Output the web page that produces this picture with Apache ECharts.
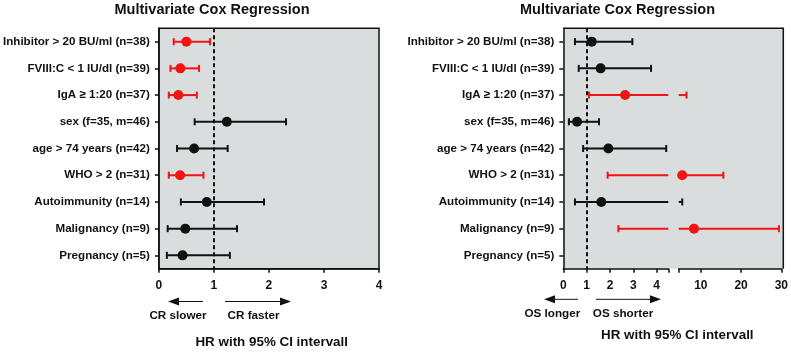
<!DOCTYPE html>
<html>
<head>
<meta charset="utf-8">
<script src="https://cdn.jsdelivr.net/npm/echarts@6/dist/echarts.min.js"></script>
<style>
  html, body { margin: 0; padding: 0; background: #fff; }
  #chart { width: 791px; height: 352px; }
</style>
</head>
<body>
<div id="chart"></div>
<script>
// rows (top to bottom)
const rows = [
    'Inhibitor > 20 BU/ml (n=38)',
    'FVIII:C < 1 IU/dl (n=39)',
    'IgA \u2265 1:20 (n=37)',
    'sex (f=35, m=46)',
    'age > 74 years (n=42)',
    'WHO > 2 (n=31)',
    'Autoimmunity (n=14)',
    'Malignancy (n=9)',
    'Pregnancy (n=5)'
];

// left panel: complete remission
const crHR = [0.50, 0.39, 0.355, 1.235, 0.64, 0.385, 0.87, 0.48, 0.43];
const crLo = [0.27, 0.21, 0.18, 0.65, 0.33, 0.18, 0.40, 0.16, 0.145];
const crHi = [0.93, 0.73, 0.69, 2.31, 1.25, 0.81, 1.91, 1.42, 1.29];
const crSig = [1, 1, 1, 0, 0, 1, 0, 0, 0];

// right panel: overall survival (pregnancy not estimated)
const osHR = [1.22, 1.60, 2.65, 0.59, 1.93, 5.38, 1.63, 8.3, null];
const osLo = [0.50, 0.66, 1.10, 0.24, 0.85, 1.90, 0.50, 2.36, null];
const osHi = [2.96, 3.76, 6.45, 1.53, 4.41, 15.6, 5.38, 29.4, null];
const osSig = [0, 0, 1, 0, 0, 1, 0, 1, 0];

// axis ticks
const crTicks = [0, 1, 2, 3, 4];
const osTicksLow = [0, 1, 2, 3, 4];
const osTicksHigh = [10, 20, 30];
const osBreak = 4.5;

const RED = '#f01414';
const BLACK = '#111111';
const BG = '#d9dddd';
const FONT = 'Arial, "Liberation Sans", sans-serif';

function colorOf(sig) { return sig ? RED : BLACK; }

function barData(lo, hi, hr, sig) {
    const out = [];
    for (let i = 0; i < rows.length; i++) {
        if (hr[i] == null) continue;
        out.push({ value: [lo[i], i, hi[i]], itemStyle: { color: colorOf(sig[i]) } });
    }
    return out;
}

function pointData(hr, sig) {
    const out = [];
    for (let i = 0; i < rows.length; i++) {
        if (hr[i] == null) continue;
        out.push({ value: [hr[i], i], itemStyle: { color: colorOf(sig[i]), opacity: 1 } });
    }
    return out;
}

// error bar drawn through the axis scale, clipped to its grid
function renderBar(params, api) {
    const cs = params.coordSys;
    const p1 = api.coord([api.value(0), api.value(1)]);
    const p2 = api.coord([api.value(2), api.value(1)]);
    const xmin = cs.x, xmax = cs.x + cs.width;
    const x1 = Math.max(p1[0], xmin), x2 = Math.min(p2[0], xmax);
    if (x2 <= x1) return;
    const y = p1[1];
    const color = api.visual('color');
    const style = { stroke: color, lineWidth: 2 };
    const children = [{ type: 'line', shape: { x1: x1, y1: y, x2: x2, y2: y }, style: style }];
    const cap = 3.5;
    if (p1[0] >= xmin - 0.5 && p1[0] <= xmax + 0.5) {
        children.push({ type: 'line', shape: { x1: p1[0], y1: y - cap, x2: p1[0], y2: y + cap }, style: style });
    }
    if (p2[0] >= xmin - 0.5 && p2[0] <= xmax + 0.5) {
        children.push({ type: 'line', shape: { x1: p2[0], y1: y - cap, x2: p2[0], y2: y + cap }, style: style });
    }
    return { type: 'group', children: children };
}

const gTop = 28.3, gHeight = 240.4;
const axisLabelStyle = { color: BLACK, fontWeight: 'bold', fontSize: 12, fontFamily: FONT };
const catLabelStyle = { color: BLACK, fontWeight: 'bold', fontSize: 11.6, fontFamily: FONT };
const axLine = { color: BLACK, width: 1.5 };

function yAxis(gridIndex, show) {
    return {
        type: 'category', gridIndex: gridIndex, data: rows, inverse: true,
        show: show,
        axisLine: { show: true, lineStyle: axLine },
        axisTick: { show: true, length: 4, alignWithLabel: true, lineStyle: axLine },
        axisLabel: Object.assign({ margin: 9 }, catLabelStyle)
    };
}

function xAxis(gridIndex, min, max, ticks, labels) {
    return {
        type: 'value', gridIndex: gridIndex, min: min, max: max,
        splitLine: { show: false },
        axisLine: { show: true, onZero: false, lineStyle: axLine },
        axisTick: { show: true, length: 4, customValues: ticks, lineStyle: axLine },
        axisLabel: Object.assign({ margin: 11, customValues: labels }, axisLabelStyle)
    };
}

const dashLine = {
    silent: true, symbol: 'none', label: { show: false }, z: 1,
    lineStyle: { color: BLACK, type: [4, 3], width: 2 },
    emphasis: { disabled: true },
    data: [{ xAxis: 1 }]
};

function textEl(x, y, text, size) {
    return { type: 'text', x: x, y: y, style: { text: text, align: 'center', verticalAlign: 'middle',
        fill: BLACK, font: 'bold ' + size + 'px ' + FONT } };
}

const option = {
    animation: false,
    textStyle: { fontFamily: FONT },
    grid: [
        { left: 157.7, top: gTop, width: 221.3, height: gHeight, show: true,
          backgroundColor: BG, borderColor: BLACK, borderWidth: 1.5 },
        { left: 563.3, top: gTop, width: 105, height: gHeight },
        { left: 678.7, top: gTop, width: 104.6, height: gHeight }
    ],
    xAxis: [
        xAxis(0, 0, 4, crTicks, crTicks),
        xAxis(1, 0, osBreak, osTicksLow.concat([osBreak]), osTicksLow),
        xAxis(2, osBreak, 30, [osBreak].concat(osTicksHigh), osTicksHigh)
    ],
    yAxis: [yAxis(0, true), yAxis(1, true), yAxis(2, false)],
    graphic: [
        // titles
        textEl(212, 9.5, 'Multivariate Cox Regression', 14.5),
        textEl(617.5, 10, 'Multivariate Cox Regression', 14.5),
        // right panel background and frame
        { type: 'rect', z: -10, shape: { x: 563.3, y: gTop, width: 220, height: gHeight }, style: { fill: BG } },
        { type: 'polyline', z: 10, shape: { points: [[563.3, gTop], [783.3, gTop], [783.3, gTop + gHeight]] },
          style: { stroke: BLACK, lineWidth: 1.5, fill: null } },
        // direction arrows, left panel
        { type: 'line', shape: { x1: 175, y1: 301.5, x2: 203, y2: 301.5 }, style: { stroke: BLACK, lineWidth: 1 } },
        { type: 'polygon', shape: { points: [[168, 301.5], [179, 297.5], [179, 305.5]] }, style: { fill: BLACK } },
        { type: 'line', shape: { x1: 225, y1: 301.5, x2: 284, y2: 301.5 }, style: { stroke: BLACK, lineWidth: 1 } },
        { type: 'polygon', shape: { points: [[291, 301.5], [280, 297.5], [280, 305.5]] }, style: { fill: BLACK } },
        textEl(178, 316, 'CR slower', 11.7),
        textEl(253.5, 316, 'CR faster', 11.7),
        textEl(271.7, 342.5, 'HR with 95% CI intervall', 13.4),
        // direction arrows, right panel
        { type: 'line', shape: { x1: 551, y1: 299.3, x2: 578, y2: 299.3 }, style: { stroke: BLACK, lineWidth: 1 } },
        { type: 'polygon', shape: { points: [[544, 299.3], [555, 295.3], [555, 303.3]] }, style: { fill: BLACK } },
        { type: 'line', shape: { x1: 596, y1: 299.3, x2: 654, y2: 299.3 }, style: { stroke: BLACK, lineWidth: 1 } },
        { type: 'polygon', shape: { points: [[661, 299.3], [650, 295.3], [650, 303.3]] }, style: { fill: BLACK } },
        textEl(552.3, 314, 'OS longer', 11.7),
        textEl(623, 314, 'OS shorter', 11.7),
        textEl(677.3, 335, 'HR with 95% CI intervall', 13.4)
    ],
    series: [
        { type: 'custom', xAxisIndex: 0, yAxisIndex: 0, renderItem: renderBar,
          encode: { x: [0, 2], y: 1 }, data: barData(crLo, crHi, crHR, crSig), z: 3 },
        { type: 'scatter', xAxisIndex: 0, yAxisIndex: 0, symbolSize: 10, data: pointData(crHR, crSig),
          markLine: dashLine, z: 4 },
        { type: 'custom', xAxisIndex: 1, yAxisIndex: 1, renderItem: renderBar,
          encode: { x: [0, 2], y: 1 }, data: barData(osLo, osHi, osHR, osSig), z: 3 },
        { type: 'scatter', xAxisIndex: 1, yAxisIndex: 1, symbolSize: 10, clip: true, data: pointData(osHR, osSig),
          markLine: dashLine, z: 4 },
        { type: 'custom', xAxisIndex: 2, yAxisIndex: 2, renderItem: renderBar,
          encode: { x: [0, 2], y: 1 }, data: barData(osLo, osHi, osHR, osSig), z: 3 },
        { type: 'scatter', xAxisIndex: 2, yAxisIndex: 2, symbolSize: 10, clip: true, data: pointData(osHR, osSig), z: 4 }
    ]
};

const chart = echarts.init(document.getElementById('chart'));
chart.setOption(option);
</script>
</body>
</html>
